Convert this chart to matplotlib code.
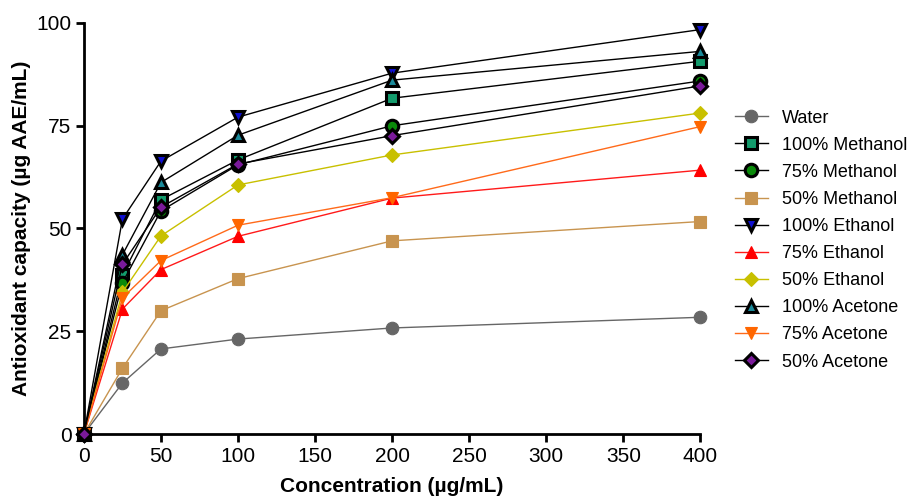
import numpy as np
import matplotlib
matplotlib.use('Agg')
import matplotlib.pyplot as plt

plt.rcParams['font.family'] = ['Liberation Sans', 'DejaVu Sans']

conc = [0, 25, 50, 100, 200, 400]

labels = ['Water', '100% Methanol', '75% Methanol', '50% Methanol', '100% Ethanol',
          '75% Ethanol', '50% Ethanol', '100% Acetone', '75% Acetone', '50% Acetone']

water = [0, 12.4, 20.7, 23.1, 25.8, 28.4]
meoh100 = [0, 38.7, 57.0, 66.7, 81.7, 90.7]
meoh75 = [0, 36.8, 54.3, 65.5, 75.0, 85.9]
meoh50 = [0, 16.0, 30.0, 37.8, 47.0, 51.7]
etoh100 = [0, 52.3, 66.4, 77.1, 87.8, 98.4]
etoh75 = [0, 30.4, 40.0, 48.1, 57.4, 64.2]
etoh50 = [0, 34.5, 48.2, 60.6, 67.9, 78.1]
acet100 = [0, 43.6, 61.2, 72.7, 86.1, 93.1]
acet75 = [0, 33.1, 42.2, 50.8, 57.5, 74.8]
acet50 = [0, 41.3, 55.2, 65.7, 72.6, 84.7]

series = [water, meoh100, meoh75, meoh50, etoh100, etoh75, etoh50, acet100, acet75, acet50]

# (marker, line colour, face colour, edge colour)
styles = [
    ('o', '#666666', '#666666', '#666666'),
    ('s', 'black', '#139b6c', 'black'),
    ('o', 'black', '#0a8a0a', 'black'),
    ('s', '#c8944f', '#c8944f', '#c8944f'),
    ('v', 'black', '#1010d0', 'black'),
    ('^', '#ff1a1a', '#ff0000', '#ff0000'),
    ('D', '#c8c000', '#c8c000', '#c8c000'),
    ('^', 'black', '#1a8a9a', 'black'),
    ('v', '#ff6a1a', '#ff6600', '#ff6600'),
    ('D', 'black', '#7a1a9a', 'black'),
]

fig = plt.figure(figsize=(9.12, 5), dpi=100)
ax = fig.add_axes([0.092, 0.132, 0.676, 0.822])

for lab, vals, (m, lc, fc, ec) in zip(labels, series, styles):
    ms = 9 if m != 'D' else 7.5
    mew = 2.2 if ec == 'black' else 0.8
    ax.plot(conc, vals, color=lc, lw=1, marker=m, ms=ms, mfc=fc, mec=ec, mew=mew,
            label=lab, clip_on=False, zorder=3)

ax.set_xlim(0, 400)
ax.set_ylim(0, 100)
ax.set_xticks(np.arange(0, 401, 50))
ax.set_yticks([0, 25, 50, 75, 100])
for s in ['top', 'right']:
    ax.spines[s].set_visible(False)
for s in ['left', 'bottom']:
    ax.spines[s].set_linewidth(2)
ax.tick_params(width=2, length=6, labelsize=15, direction='out', pad=3)

ax.set_xlabel('Concentration (µg/mL)', fontsize=15, fontweight='bold', labelpad=8)
ax.set_ylabel('Antioxidant capacity (µg AAE/mL)', fontsize=15, fontweight='bold', labelpad=4)

ax.legend(loc='center left', bbox_to_anchor=(1.03, 0.472), frameon=False, fontsize=13,
          handlelength=1.8, labelspacing=0.56, handletextpad=0.8)

fig.savefig('out.png', dpi=100)
